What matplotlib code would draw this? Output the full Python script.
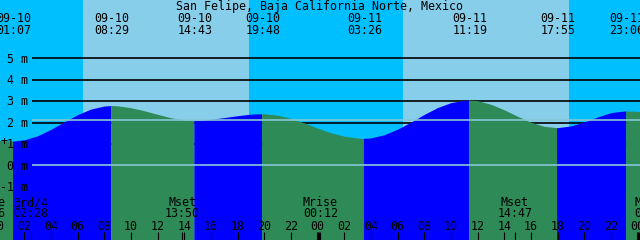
import matplotlib

matplotlib.use("Agg")
import matplotlib.pyplot as plt
import numpy as np

TITLE = "San Felipe, Baja California Norte, Mexico"

# tide extremes
tide_dates = ["09-10", "09-10", "09-10", "09-10", "09-11", "09-11", "09-11", "09-11"]
tide_times = ["01:07", "08:29", "14:43", "19:48", "03:26", "11:19", "17:55", "23:06"]
tide_heights = [1.13, 2.79, 2.10, 2.41, 1.26, 3.05, 1.76, 2.54]

# hourly readings of the water curve, hours from 09-10 00:00
curve_hours = list(range(50))
curve_heights = [
    1.17, 1.13, 1.19, 1.38, 1.68, 2.03, 2.37, 2.63, 2.77, 2.78,
    2.69, 2.55, 2.38, 2.22, 2.12, 2.10, 2.15, 2.23, 2.32, 2.39,
    2.41, 2.34, 2.19, 1.98, 1.74, 1.52, 1.36, 1.27, 1.28, 1.43,
    1.69, 2.02, 2.38, 2.70, 2.93, 3.04, 3.02, 2.85, 2.59, 2.29,
    2.01, 1.82, 1.76, 1.84, 2.03, 2.26, 2.46, 2.54, 2.52, 2.44,
]

sun_days = [0, 1]
sunrise = ["06:24", "06:24"]
sunset = ["18:51", "18:51"]

moon_days = [-1, 0, 0, 1, 1, 2]
moon_names = ["Mrise", "3rd/4", "Mset", "Mrise", "Mset", "Mrise"]
moon_times = ["23:16", "02:28", "13:50", "00:12", "14:47", "01:05"]

level_ticks = [-1, 0, 1, 2, 3, 4, 5]
mean_level = 2.10
hour_ticks = list(range(0, 50, 2))

NIGHT = "#00bfff"
DAY = "#87ceeb"
RISING = "#0000ff"
FALLING = "#2e8b57"
MARK = "#86c6d6"

W, H = 640, 240
PX_PER_H = W / 48
T0 = 0.175  # chart starts at 00:10
M0_PX, PX_PER_M = 165.3, 21.4


def hours(day, hhmm):
    hh, mm = hhmm.split(":")
    return 24 * day + int(hh) + int(mm) / 60


def fy(py):  # pixel row -> axes fraction
    return 1 - py / H


tide_day = [0 if d == "09-10" else 1 for d in tide_dates]
tide_h = [hours(d, t) for d, t in zip(tide_day, tide_times)]

t_all = np.array(curve_hours + tide_h, dtype=float)
m_all = np.array(curve_heights + tide_heights)
order = np.argsort(t_all)
t_all, m_all = t_all[order], m_all[order]

x_lo, x_hi = T0, T0 + 48
y_hi = M0_PX / PX_PER_M
y_lo = -(H - M0_PX) / PX_PER_M

fig = plt.figure(figsize=(6.4, 2.4), dpi=100)
ax = fig.add_axes([0, 0, 1, 1])
ax.set_xlim(x_lo, x_hi)
ax.set_ylim(y_lo, y_hi)
ax.axis("off")
xt = ax.get_xaxis_transform()

# sky
ax.axvspan(x_lo - 1, x_hi + 1, color=NIGHT, lw=0, zorder=0)
for d, r, s in zip(sun_days, sunrise, sunset):
    ax.axvspan(hours(d, r), hours(d, s), color=DAY, lw=0, zorder=0.5)

# metre lines, hidden by the water
x_grid = x_lo + 32 / PX_PER_H
ax.hlines([v for v in level_ticks if v > 0], x_grid, x_hi, color="black", lw=1.2, zorder=1)

# water, coloured by rising / falling
bounds = [x_lo - 1] + tide_h + [x_hi + 1]
for a, b in zip(bounds[:-1], bounds[1:]):
    sel = (t_all >= a) & (t_all <= b)
    ts, ms = t_all[sel], m_all[sel]
    rising = np.interp(b, t_all, m_all) > np.interp(a, t_all, m_all)
    ax.fill_between(ts, y_lo - 1, ms, color=RISING if rising else FALLING, lw=0, zorder=2)

# datum and mean lines
ax.hlines([0, mean_level], x_grid, x_hi, color=MARK, lw=1.2, zorder=3)

font = dict(family="DejaVu Sans Mono", size=8.4, color="black", zorder=5)

for v in level_ticks:
    ax.text(x_lo + 28.5 / PX_PER_H, v - 4.3 / PX_PER_M, f"{v} m", ha="right", va="baseline", **font)
ax.text(x_lo + 4.5 / PX_PER_H, 1.1, "+", ha="center", va="center", **font)

ax.text(0.5, fy(10), TITLE, transform=ax.transAxes, ha="center", va="baseline", **font)
for t, d, s in zip(tide_h, tide_dates, tide_times):
    ax.text(t + 0.1, fy(21.7), d, transform=xt, ha="center", va="baseline", **font)
    ax.text(t + 0.1, fy(34), s, transform=xt, ha="center", va="baseline", **font)

for d, n, s in zip(moon_days, moon_names, moon_times):
    t = hours(d, s)
    ax.text(t, fy(206), n, transform=xt, ha="center", va="baseline", **font)
    ax.text(t, fy(217), s, transform=xt, ha="center", va="baseline", **font)
    ax.vlines(t, 0, fy(232), transform=xt, color="black", lw=0.8, zorder=5)

for h in hour_ticks:
    ax.text(h, fy(229.5), f"{h % 24:02d}", transform=xt, ha="center", va="baseline", **font)
    ax.vlines(h, 0, fy(232), transform=xt, color="black",
              lw=2.2 if h % 24 == 0 else 0.8, zorder=5)

fig.savefig("out.png", dpi=100)
